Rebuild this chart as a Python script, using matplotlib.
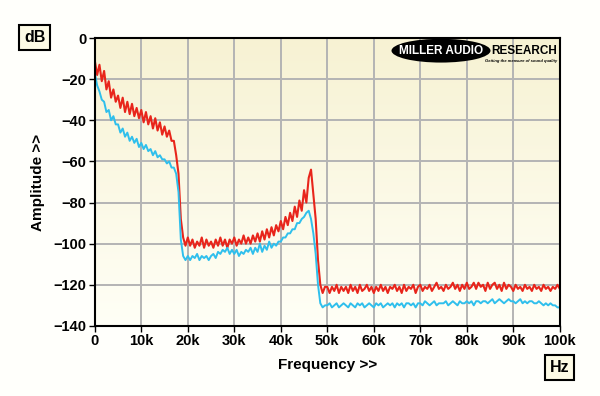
import numpy as np
import matplotlib.pyplot as plt
from matplotlib.patches import Ellipse
from matplotlib.colors import LinearSegmentedColormap

plt.rcParams["font.family"] = ["Liberation Sans", "DejaVu Sans"]
plt.rcParams["font.weight"] = "bold"

# frequency axis, kHz, 0.5k steps
freq_khz = np.arange(0, 100.5, 0.5)

# red trace (dB)
red_db = [
    -11, -18, -13, -21, -16, -25, -21, -29, -25, -31,
    -28, -34, -29, -36, -31, -37, -32, -38, -34, -39,
    -35, -41, -36, -42, -38, -44, -39, -45, -41, -47,
    -43, -48, -45, -50, -50, -57, -66, -88, -97, -101,
    -97, -101, -98, -102, -99, -101, -97, -102, -98, -101,
    -99, -102, -98, -101, -97, -101, -98, -102, -98, -100,
    -97, -101, -98, -100, -96, -100, -97, -100, -96, -99,
    -95, -99, -94, -98, -93, -97, -92, -96, -91, -94,
    -89, -93, -87, -91, -85, -89, -82, -87, -79, -84,
    -74, -80, -68, -64, -76, -88, -108, -120, -124, -121,
    -121, -124, -121, -123, -120, -124, -121, -123, -121, -124,
    -120, -123, -121, -124, -120, -123, -122, -120, -123, -121,
    -124, -121, -123, -120, -123, -121, -124, -121, -122, -120,
    -123, -121, -124, -120, -123, -121, -122, -120, -124, -121,
    -120, -123, -121, -122, -120, -123, -121, -119, -122, -121,
    -123, -120, -122, -121, -119, -122, -120, -123, -120, -122,
    -119, -122, -121, -119, -122, -119, -121, -120, -123, -119,
    -122, -120, -119, -122, -120, -123, -119, -122, -120, -121,
    -123, -120, -122, -121, -123, -120, -122, -121, -123, -120,
    -122, -121, -123, -120, -122, -121, -123, -121, -122, -120,
    -122,
]

# blue trace (dB)
blue_db = [
    -17, -23, -26, -30, -31, -36, -35, -40, -38, -42,
    -42, -46, -44, -48, -46, -50, -48, -51, -49, -53,
    -51, -54, -52, -55, -54, -57, -55, -58, -57, -59,
    -59, -61, -60, -63, -63, -66, -75, -98, -106, -108,
    -106, -108, -106, -107, -105, -108, -106, -107, -106, -108,
    -106, -105, -107, -104, -105, -103, -104, -102, -105, -103,
    -105, -103, -106, -104, -105, -103, -104, -102, -105, -102,
    -104, -100, -104, -101, -103, -99, -102, -100, -101, -99,
    -99, -97, -97, -95, -95, -93, -93, -90, -90, -88,
    -87, -85, -84, -88, -95, -105, -120, -129, -131, -130,
    -130, -129, -131, -130, -129, -131, -130, -129, -130, -131,
    -129, -130, -131, -129, -130, -129, -131, -130, -129, -130,
    -131, -129, -130, -129, -131, -130, -129, -130, -129, -131,
    -129, -130, -129, -131, -129, -129, -130, -129, -131, -129,
    -129, -130, -128, -129, -130, -129, -128, -130, -129, -129,
    -129, -128, -130, -129, -128, -129, -130, -128, -129, -129,
    -128, -129, -128, -130, -128, -128, -129, -128, -128, -129,
    -128, -127, -129, -128, -127, -128, -129, -128, -127, -128,
    -128, -129, -128, -127, -129, -128, -129, -128, -128, -129,
    -129, -128, -129, -130, -129, -130, -129, -130, -130, -131,
    -131,
]

x_ticks = np.arange(0, 101, 10)
x_labels = ["0"] + [f"{v}k" for v in x_ticks[1:]]
y_ticks = np.arange(0, -141, -20)

fig = plt.figure(figsize=(6, 3.96), dpi=100, facecolor="#fffffb")
ax = fig.add_axes([0.158, 0.177, 0.775, 0.727])

# cream gradient background
grad = np.linspace(0, 1, 256).reshape(-1, 1)
cmap = LinearSegmentedColormap.from_list("cream", ["#f7f2d3", "#fffff6"])
ax.imshow(grad, cmap=cmap, aspect="auto", extent=(0, 100, -140, 0),
          origin="upper", zorder=0)

ax.plot(freq_khz, red_db, color="#e8251b", lw=1.5, zorder=3)
ax.plot(freq_khz, blue_db, color="#2fbfec", lw=1.4, zorder=4)

ax.set_xlim(0, 100)
ax.set_ylim(-140, 0)
ax.set_xticks(x_ticks)
ax.set_xticklabels(x_labels)
ax.set_yticks(y_ticks)
ax.grid(True, color="#b4b4b4", lw=1.4, zorder=1)
ax.set_axisbelow(False)
for s in ax.spines.values():
    s.set_linewidth(1.5)
    s.set_zorder(5)
ax.tick_params(length=4, width=1, labelsize=10.5, direction="out", pad=2)
ax.set_xlabel("Frequency >>", fontsize=11, fontweight="bold", labelpad=7)
ax.set_ylabel("Amplitude >>", fontsize=11, fontweight="bold", labelpad=6)

# unit boxes
box = dict(boxstyle="square,pad=0.3", fc="#fdfbe6", ec="black", lw=1.5)
fig.text(0.058, 0.906, "dB", fontsize=11.5, fontweight="bold", ha="center",
         va="center", bbox=box)
fig.text(0.933, 0.072, "Hz", fontsize=11.5, fontweight="bold", ha="center",
         va="center", bbox=box)

# logo
ell = Ellipse((0.735, 0.872), 0.165, 0.06, transform=fig.transFigure,
              fc="black", ec="none", zorder=6)
fig.patches.append(ell)
fig.text(0.735, 0.872, "MILLER AUDIO", color="white", fontsize=8.5,
         fontweight="heavy", ha="center", va="center", zorder=7)
fig.text(0.874, 0.872, "RESEARCH", color="black", fontsize=8.5,
         fontweight="heavy", ha="center", va="center", zorder=7)
fig.text(0.869, 0.846, "Getting the measure of sound quality", color="black",
         fontsize=3, fontstyle="italic", ha="center", va="center", zorder=7)

fig.savefig("out.png", dpi=100, facecolor=fig.get_facecolor())
